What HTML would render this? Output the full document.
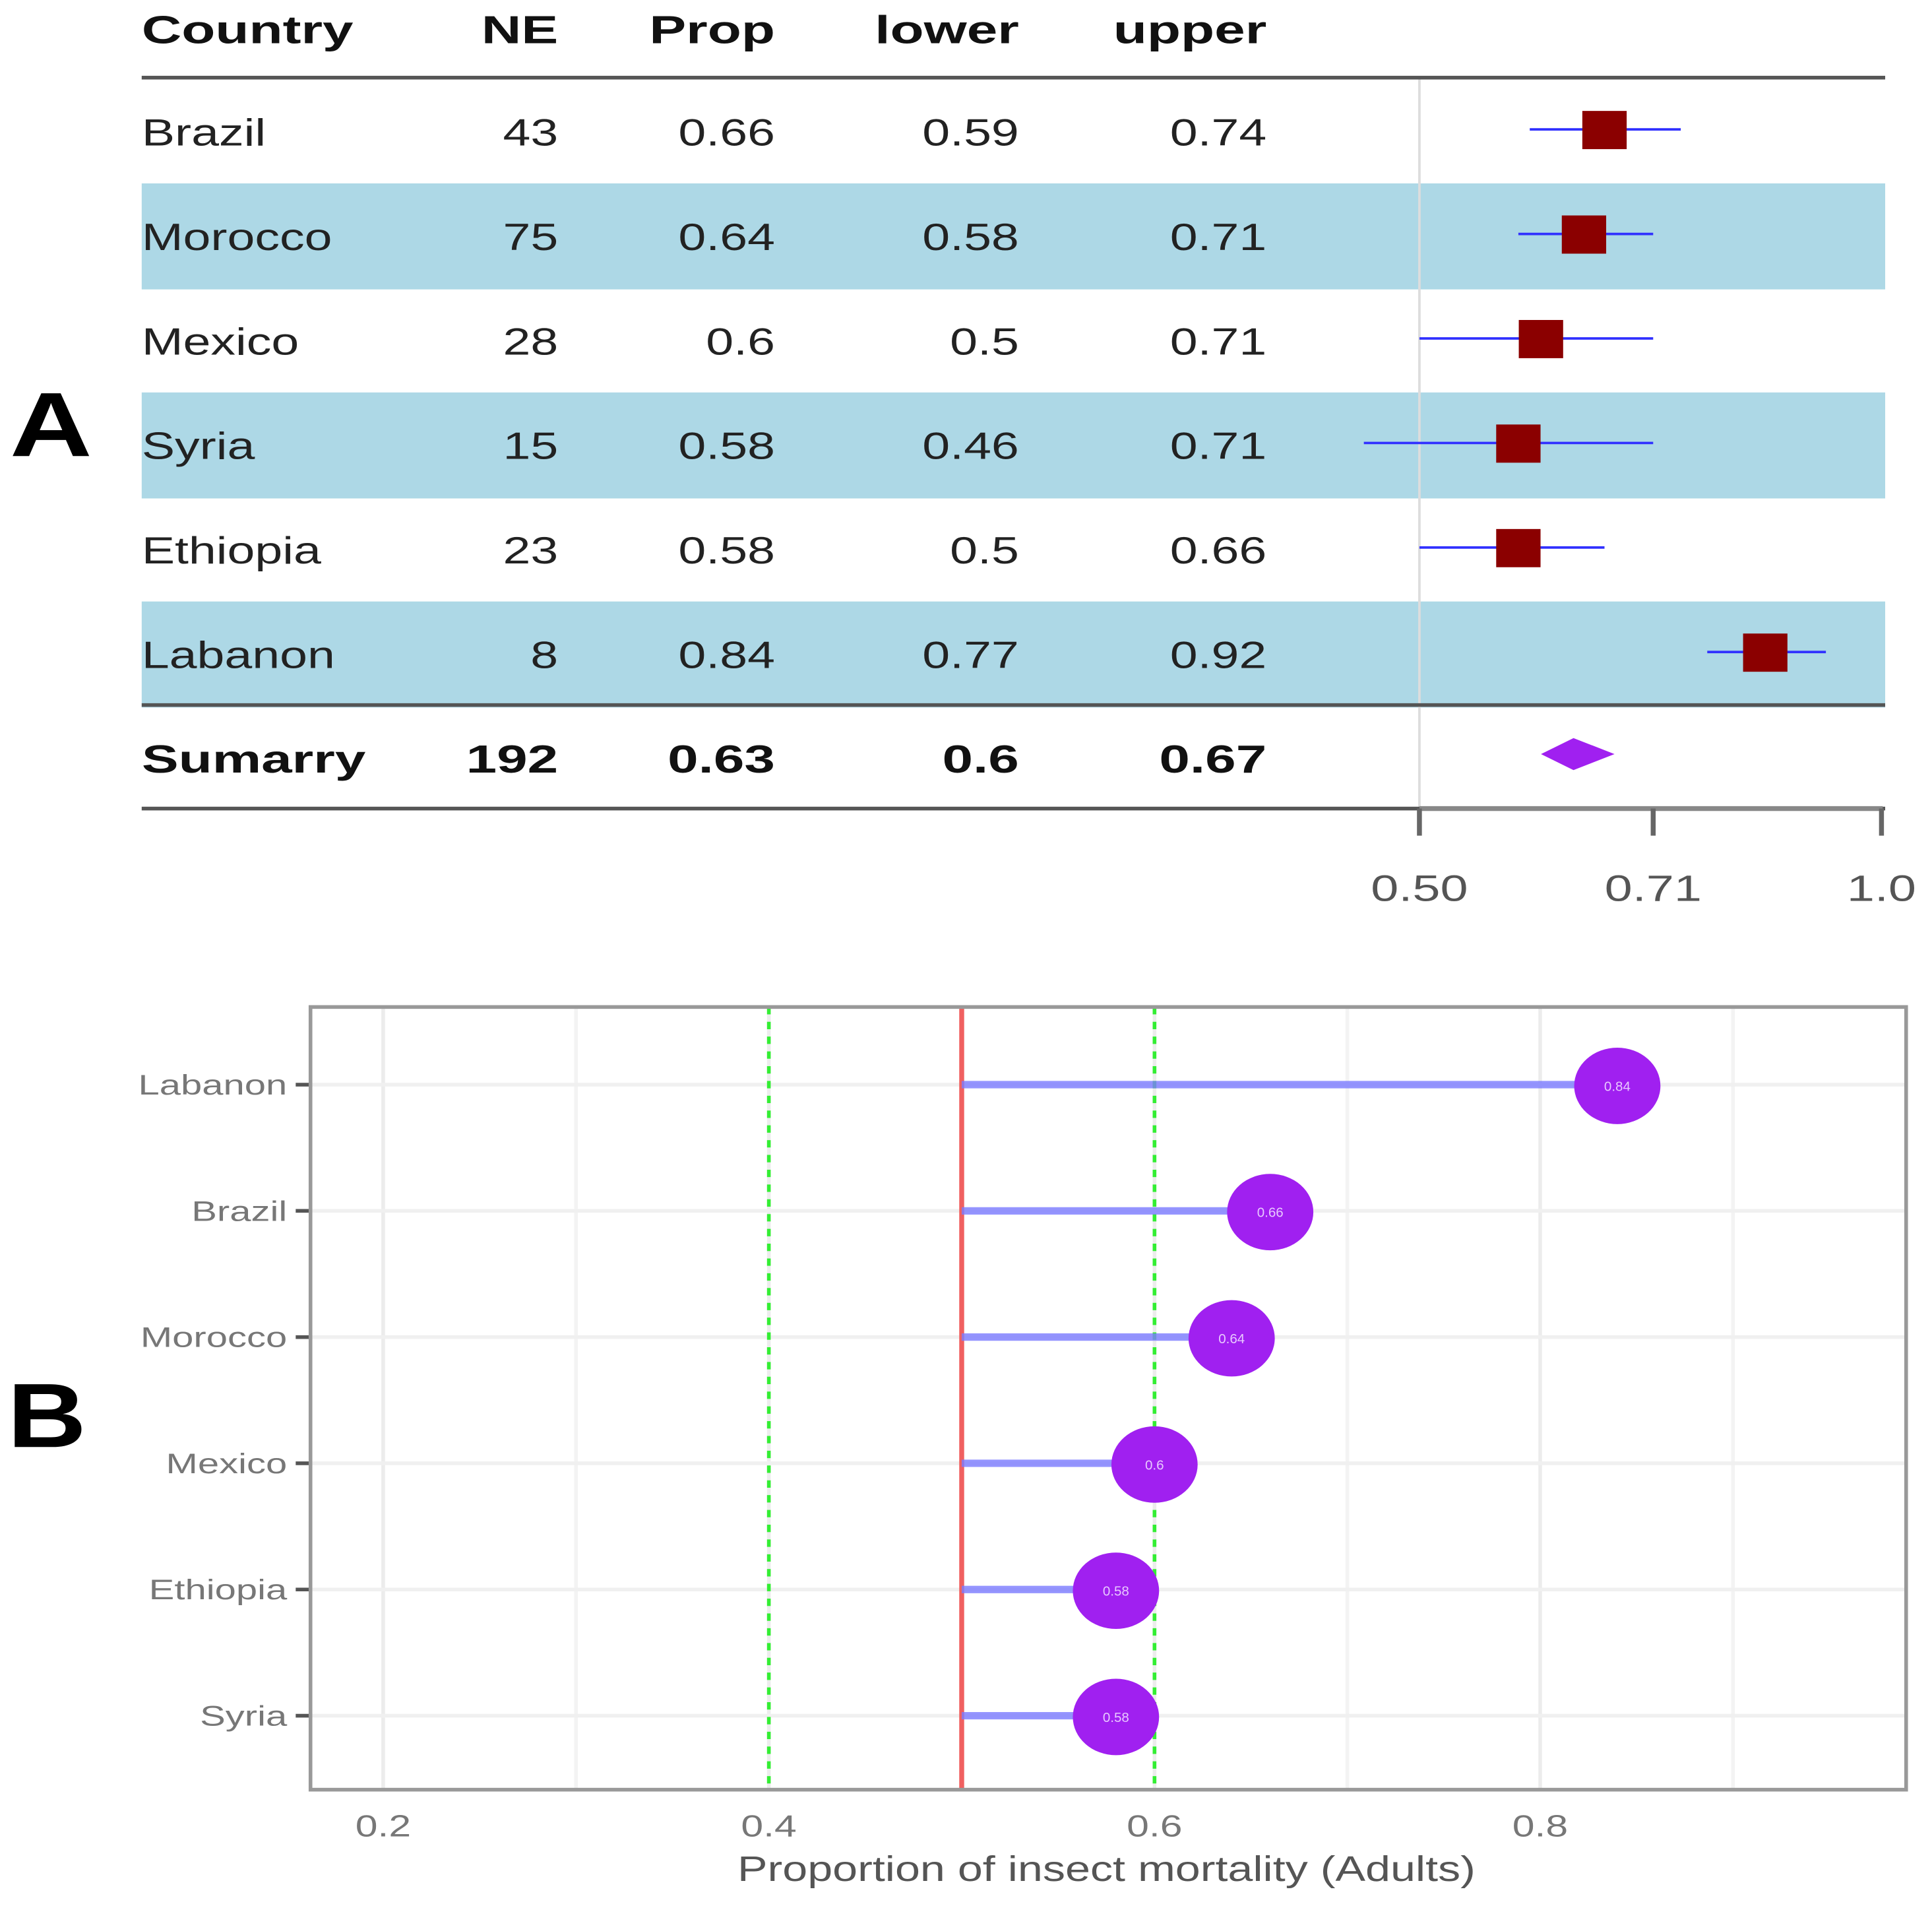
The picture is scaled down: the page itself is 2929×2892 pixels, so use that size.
<!DOCTYPE html>
<html><head><meta charset="utf-8"><style>
html,body{margin:0;padding:0;background:#fff;}
svg{display:block;}
text{font-family:"Liberation Sans",sans-serif;}
</style></head><body>
<svg id="fig" xmlns="http://www.w3.org/2000/svg" width="2929" height="2892" viewBox="0 0 1568 1548" preserveAspectRatio="none">
<rect x="0" y="0" width="1568" height="1548" fill="#fff"/>
<g id="pa"></g>
<g id="pb"></g>
</svg>
<script>
const countries=["Brazil","Morocco","Mexico","Syria","Ethiopia","Labanon"];
const neVals=["43","75","28","15","23","8"];
const propVals=[0.66,0.64,0.6,0.58,0.58,0.84];
const lowerVals=[0.59,0.58,0.5,0.46,0.5,0.77];
const upperVals=[0.74,0.71,0.71,0.71,0.66,0.92];
const propLabels=["0.66","0.64","0.6","0.58","0.58","0.84"];
const lowerLabels=["0.59","0.58","0.5","0.46","0.5","0.77"];
const upperLabels=["0.74","0.71","0.71","0.71","0.66","0.92"];
const summaryVals=["Sumarry","192","0.63","0.6","0.67"];
const summaryProp=0.63, summaryLower=0.6, summaryUpper=0.67;
const forestTicks=[0.5,0.71,1.0];
const forestTickLabels=["0.50","0.71","1.0"];
const bCountries=["Labanon","Brazil","Morocco","Mexico","Ethiopia","Syria"];
const bValues=[0.84,0.66,0.64,0.6,0.58,0.58];
const bLabels=["0.84","0.66","0.64","0.6","0.58","0.58"];
const bTicks=[0.2,0.4,0.6,0.8];
const bTickLabels=["0.2","0.4","0.6","0.8"];
const bMinor=[0.3,0.5,0.7,0.9];

const NS="http://www.w3.org/2000/svg";
function mk(p,tag,at,txt){const e=document.createElementNS(NS,tag);for(const k in at)e.setAttribute(k,at[k]);if(txt!==undefined)e.textContent=txt;p.appendChild(e);return e;}
function st(e,sx){const x=+e.getAttribute('x');e.setAttribute('transform',`translate(${x},0) scale(${sx},1) translate(${-x},0)`);return e;}

// Panel A
const pa=document.getElementById('pa');
const fx=v=>1152+375*(Math.log(v)-Math.log(0.5))/(0-Math.log(0.5));
const rowY=i=>107+i*84.8;
let e;
e=st(mk(pa,'text',{x:8,y:370,'font-size':74,'font-weight':'900',fill:'#000'},'A'),1.25);


const colX=[115,453,629,827,1028];
const hdr=["Country","NE","Prop","lower","upper"];
hdr.forEach((h,j)=>{e=st(mk(pa,'text',{x:colX[j],y:35,'font-size':32,'font-weight':'bold',fill:'#111','text-anchor':j?'end':'start'},h),1.4);

});
[1,3,5].forEach(i=>{e=mk(pa,'rect',{x:115,y:rowY(i)-43,width:1415,height:86,fill:'#add8e6'});

});
e=mk(pa,'line',{x1:1152,x2:1152,y1:63,y2:656,stroke:'#ddd','stroke-width':2});


[63,572,656].forEach(y=>{e=mk(pa,'line',{x1:115,x2:1530,y1:y,y2:y,stroke:'#555','stroke-width':3});

});
countries.forEach((c,i)=>{const y=rowY(i)+11;
const vals=[c,neVals[i],propLabels[i],lowerLabels[i],upperLabels[i]];
vals.forEach((v,j)=>{e=st(mk(pa,'text',{x:colX[j],y:y,'font-size':31,fill:'#222','text-anchor':j?'end':'start'},v),1.3);

});
e=mk(pa,'line',{x1:fx(lowerVals[i]),x2:fx(upperVals[i]),y1:rowY(i)-2,y2:rowY(i)-2,stroke:'#3030ff','stroke-width':2});


e=mk(pa,'rect',{x:fx(propVals[i])-18,y:rowY(i)-17,width:36,height:31,fill:'#8b0000'});

});
summaryVals.forEach((v,j)=>{e=st(mk(pa,'text',{x:colX[j],y:rowY(6)+11,'font-size':32,'font-weight':'bold',fill:'#111','text-anchor':j?'end':'start'},v),1.4);

});
{const y=rowY(6)-4;
e=mk(pa,'polygon',{points:`${fx(summaryLower)},${y} ${fx(summaryProp)},${y-13} ${fx(summaryUpper)},${y} ${fx(summaryProp)},${y+13}`,fill:'#a020f0'});

}
e=mk(pa,'line',{x1:1152,x2:1528,y1:656,y2:656,stroke:'#888','stroke-width':4});


forestTicks.forEach((t,i)=>{const x=Math.min(fx(t),1527);
e=mk(pa,'line',{x1:x,x2:x,y1:656,y2:678,stroke:'#666','stroke-width':4});


e=st(mk(pa,'text',{x:x,y:731,'font-size':30,fill:'#555','text-anchor':'middle'},forestTickLabels[i]),1.35);

});

// Panel B
const pb=document.getElementById('pb');
const bx=v=>311+(v-0.2)*1565;
const by=i=>880+i*102.4;
e=st(mk(pb,'text',{x:6,y:1174,'font-size':74,'font-weight':'900',fill:'#000'},'B'),1.2);


bMinor.forEach(t=>{e=mk(pb,'line',{x1:bx(t),x2:bx(t),y1:817,y2:1452,stroke:'#f3f3f3','stroke-width':3});

});
bTicks.forEach(t=>{e=mk(pb,'line',{x1:bx(t),x2:bx(t),y1:817,y2:1452,stroke:'#ececec','stroke-width':3});

});
bCountries.forEach((c,i)=>{e=mk(pb,'line',{x1:252,x2:1547,y1:by(i),y2:by(i),stroke:'#f0f0f0','stroke-width':3});

});
[0.4,0.6].forEach(t=>{e=mk(pb,'line',{x1:bx(t),x2:bx(t),y1:817,y2:1452,stroke:'#33ee33','stroke-width':3,'stroke-dasharray':'6,6'});

});
e=mk(pb,'line',{x1:bx(0.5),x2:bx(0.5),y1:817,y2:1452,stroke:'#f06060','stroke-width':4});


bCountries.forEach((c,i)=>{const y=by(i);
e=mk(pb,'line',{x1:bx(0.5),x2:bx(bValues[i]),y1:y,y2:y,stroke:'#7b7bff','stroke-width':6,'stroke-opacity':0.8});


e=mk(pb,'ellipse',{cx:bx(bValues[i]),cy:y+1,rx:35,ry:31,fill:'#a020f0'});


e=mk(pb,'text',{x:bx(bValues[i]),y:y+5,'font-size':11,fill:'#e8c8ff','text-anchor':'middle'},bLabels[i]);


e=st(mk(pb,'text',{x:233,y:y+8,'font-size':23,fill:'#777','text-anchor':'end'},c),1.35);


e=mk(pb,'line',{x1:240,x2:252,y1:y,y2:y,stroke:'#555','stroke-width':3});

});
e=mk(pb,'rect',{x:252,y:817,width:1295,height:635,fill:'none',stroke:'#999','stroke-width':3});


bTicks.forEach((t,i)=>{e=st(mk(pb,'text',{x:bx(t),y:1490,'font-size':25,fill:'#777','text-anchor':'middle'},bTickLabels[i]),1.3);

});
e=st(mk(pb,'text',{x:898,y:1526,'font-size':29,fill:'#555','text-anchor':'middle'},'Proportion of insect mortality (Adults)'),1.26);


</script>
</body></html>
